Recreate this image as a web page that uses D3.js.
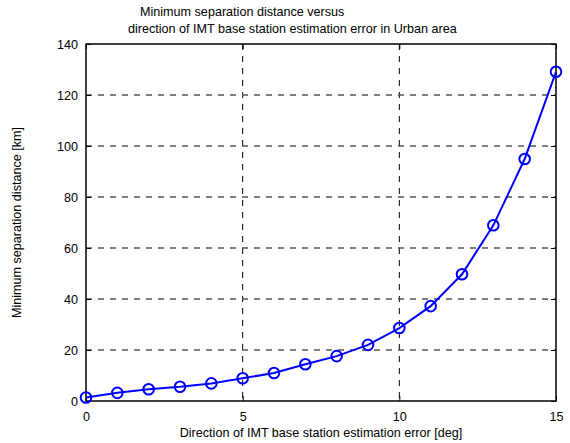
<!DOCTYPE html>
<html>
<head>
<meta charset="utf-8">
<script src="https://cdn.jsdelivr.net/npm/d3@7"></script>
<style>
  body { margin: 0; background: #fff; }
  svg text { font-family: "Liberation Sans", Arial, sans-serif; font-size: 12.6px; fill: #000; }
</style>
</head>
<body>
<div id="chart"></div>
<script>
'use strict';

// direction error (deg) vs minimum separation distance (km)
var directions = [0, 1, 2, 3, 4, 5, 6, 7, 8, 9, 10, 11, 12, 13, 14, 15];
var distances = [1.4, 3.2, 4.6, 5.6, 6.9, 8.9, 11.0, 14.4, 17.6, 22.0, 28.6, 37.2, 49.7, 68.9, 94.9, 129.1];
var xTicks = [0, 5, 10, 15];
var yTicks = [0, 20, 40, 60, 80, 100, 120, 140];

var graph = {
  width: 570,
  height: 443,
  left: 86,
  right: 556,
  top: 44,
  bottom: 401
};

var svg = d3.select('#chart').append('svg')
  .attr('width', graph.width)
  .attr('height', graph.height);

var x = d3.scaleLinear().domain([0, 15]).range([graph.left, graph.right]);
var y = d3.scaleLinear().domain([0, 140]).range([graph.bottom, graph.top]);

// vertical grid (only inner ticks)
svg.append('g')
  .selectAll('line')
  .data(xTicks.slice(1, -1))
  .enter().append('line')
  .attr('x1', function(d) { return x(d); })
  .attr('x2', function(d) { return x(d); })
  .attr('y1', graph.top)
  .attr('y2', graph.bottom)
  .attr('stroke', '#000')
  .attr('stroke-width', 1)
  .attr('stroke-dasharray', '6,6');

// horizontal grid
svg.append('g')
  .selectAll('line')
  .data(yTicks.slice(1, -1))
  .enter().append('line')
  .attr('x1', graph.left)
  .attr('x2', graph.right)
  .attr('y1', function(d) { return y(d); })
  .attr('y2', function(d) { return y(d); })
  .attr('stroke', '#555')
  .attr('stroke-width', 1.3)
  .attr('stroke-dasharray', '6,6');

// axes with ticks pointing inward
svg.append('g')
  .attr('transform', 'translate(0,' + graph.bottom + ')')
  .call(d3.axisBottom(x).tickValues(xTicks).tickSize(-5).tickPadding(11).tickFormat(d3.format('d')))
  .call(function(g) { g.select('.domain').remove(); })
  .call(function(g) { g.selectAll('text').style('font-size', '12.6px'); });

svg.append('g')
  .attr('transform', 'translate(' + graph.left + ',0)')
  .call(d3.axisLeft(y).tickValues(yTicks).tickSize(-5).tickPadding(8).tickFormat(d3.format('d')))
  .call(function(g) { g.select('.domain').remove(); })
  .call(function(g) { g.selectAll('text').style('font-size', '12.6px'); });

// right-side ticks and top ticks
svg.append('g')
  .attr('transform', 'translate(' + graph.right + ',0)')
  .call(d3.axisRight(y).tickValues(yTicks).tickSize(-5).tickFormat(''))
  .call(function(g) { g.select('.domain').remove(); });

svg.append('g')
  .attr('transform', 'translate(0,' + graph.top + ')')
  .call(d3.axisTop(x).tickValues(xTicks).tickSize(-5).tickFormat(''))
  .call(function(g) { g.select('.domain').remove(); });

// frame
svg.append('rect')
  .attr('x', graph.left)
  .attr('y', graph.top)
  .attr('width', graph.right - graph.left)
  .attr('height', graph.bottom - graph.top)
  .attr('fill', 'none')
  .attr('stroke', '#000')
  .attr('stroke-width', 1.5);

// data line
var points = directions.map(function(d, i) { return { x: d, y: distances[i] }; });

var valueLine = d3.line()
  .x(function(d) { return x(d.x); })
  .y(function(d) { return y(d.y); });

svg.append('path')
  .datum(points)
  .attr('d', valueLine)
  .attr('fill', 'none')
  .attr('stroke', '#0000ff')
  .attr('stroke-width', 2);

svg.append('g')
  .selectAll('circle')
  .data(points)
  .enter().append('circle')
  .attr('cx', function(d) { return x(d.x); })
  .attr('cy', function(d) { return y(d.y); })
  .attr('r', 5.3)
  .attr('fill', 'none')
  .attr('stroke', '#0000ff')
  .attr('stroke-width', 2);

// titles and labels
svg.append('text')
  .attr('x', 140)
  .attr('y', 16)
  .text('Minimum separation distance versus');

svg.append('text')
  .attr('x', 128)
  .attr('y', 33)
  .text('direction of IMT base station estimation error in Urban area');

svg.append('text')
  .attr('x', (graph.left + graph.right) / 2)
  .attr('y', 437)
  .attr('text-anchor', 'middle')
  .text('Direction of IMT base station estimation error [deg]');

svg.append('text')
  .attr('transform', 'translate(21,' + ((graph.top + graph.bottom) / 2) + ') rotate(-90)')
  .attr('text-anchor', 'middle')
  .text('Minimum separation distance [km]');
</script>
</body>
</html>
